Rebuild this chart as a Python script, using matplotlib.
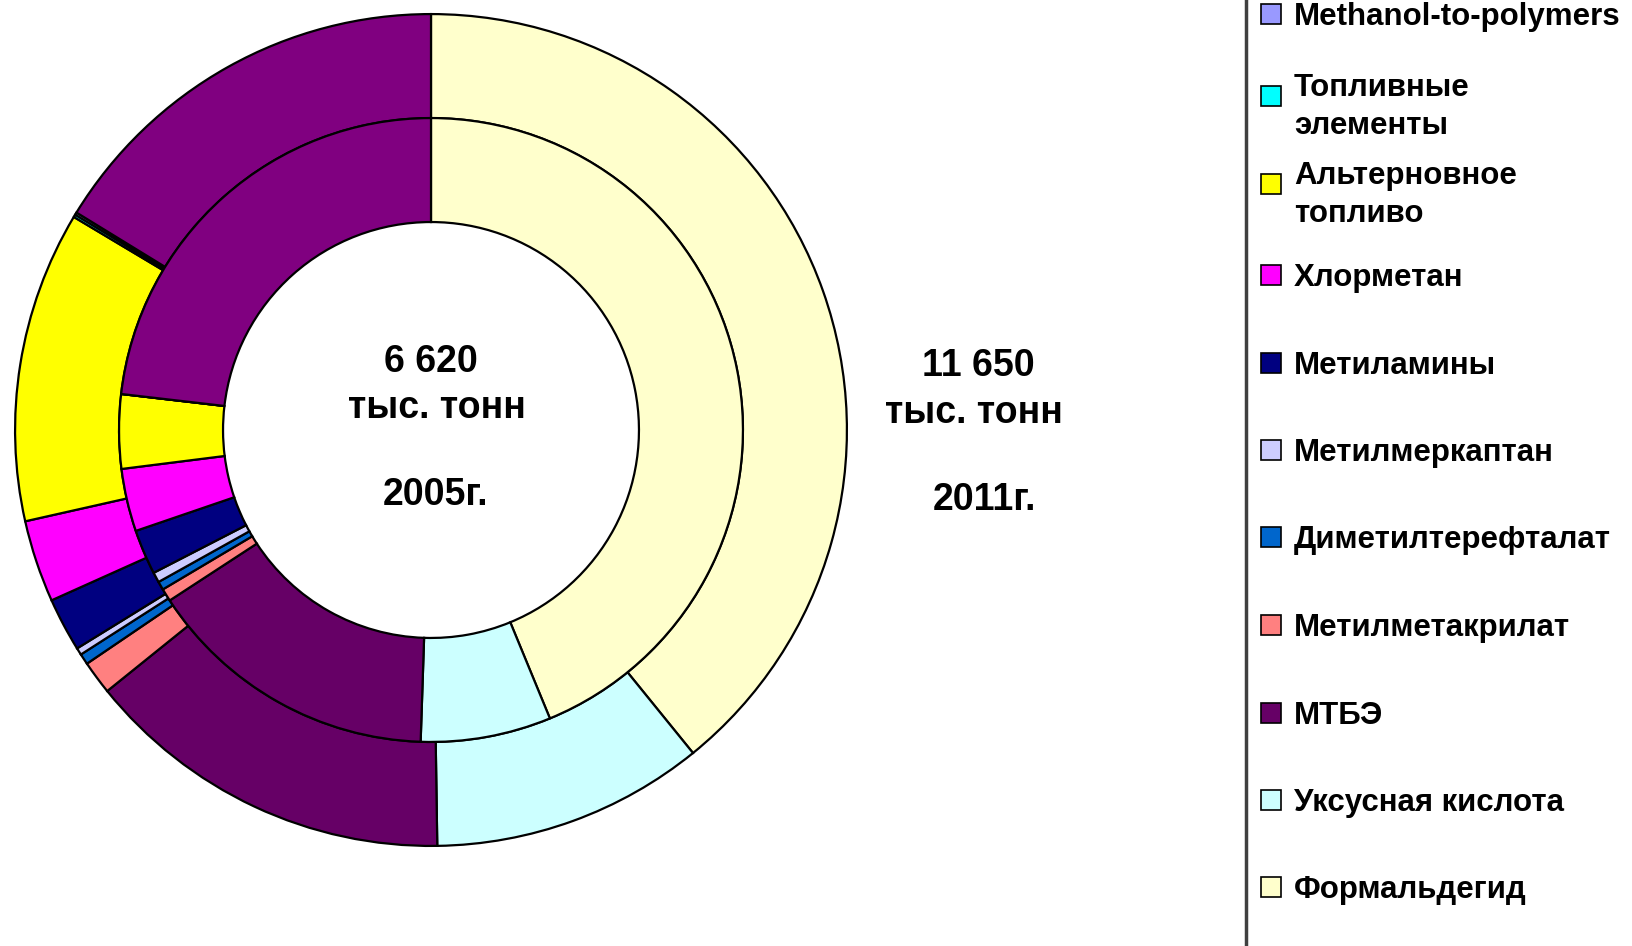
import matplotlib
matplotlib.use('Agg')
import matplotlib.pyplot as plt
from matplotlib.patches import Rectangle
from matplotlib.lines import Line2D

plt.rcParams['font.family'] = ['Liberation Sans', 'DejaVu Sans']

# categories in drawing order (clockwise from 12 o'clock)
categories = ['Формальдегид', 'Уксусная кислота', 'МТБЭ', 'Метилметакрилат',
              'Диметилтерефталат', 'Метилмеркаптан', 'Метиламины', 'Хлорметан',
              'Альтерновное\nтопливо', 'Топливные\nэлементы', 'Methanol-to-polymers',
              'Прочие']
colors = ['#FFFFCC', '#CCFFFF', '#660066', '#FF8080', '#0066CC', '#CCCCFF',
          '#000080', '#FF00FF', '#FFFF00', '#00FFFF', '#9999FF', '#800080']

# thousand tonnes
values_2005 = [2898, 447, 1011, 44, 29, 35, 154, 215, 254, 0, 0, 1533]
values_2011 = [4563, 1236, 1683, 152, 49, 32, 243, 372, 1408, 12, 11, 1893]

total_2005 = '6 620'
total_2011 = '11 650'

W, H = 1633, 946
fig = plt.figure(figsize=(W / 100, H / 100), dpi=100)

cx, cy, r = 431, 430, 418
ax = fig.add_axes([(cx - r) / W, (H - cy - r) / H, 2 * r / W, 2 * r / H])

edge = dict(edgecolor='black', linewidth=1.6)
ax.pie(values_2011, colors=colors, radius=1.0, startangle=90, counterclock=False,
       wedgeprops=dict(width=0.25, **edge))
ax.pie(values_2005, colors=colors, radius=0.75, startangle=90, counterclock=False,
       wedgeprops=dict(width=0.25, **edge))
ax.set_xlim(-1.005, 1.005)
ax.set_ylim(-1.005, 1.005)
ax.set_aspect('equal')
ax.axis('off')


def ftext(x, y, s, **kw):
    fig.text(x / W, 1 - y / H, s, fontweight='bold', **kw)


# centre labels
ftext(431, 362, total_2005, fontsize=27, ha='center', va='center')
ftext(437, 408, 'тыс. тонн', fontsize=27, ha='center', va='center')
ftext(436, 495, '2005г.', fontsize=27, ha='center', va='center')

ftext(978, 366, total_2011, fontsize=27, ha='center', va='center')
ftext(974, 413, 'тыс. тонн', fontsize=27, ha='center', va='center')
ftext(985, 500, '2011г.', fontsize=27, ha='center', va='center')

# legend (top entry is cut off by the picture edge, so it is left out)
fig.add_artist(Line2D([1246 / W, 1246 / W], [0, 1], color='#404040', linewidth=2.5))
legend_rows = [887, 800, 713, 625, 537, 450, 363, 275, 188, 100, 14]
for name, col, y in zip(categories[:11], colors[:11], legend_rows):
    two = '\n' in name
    py = y - 4 if two else y
    fig.add_artist(Rectangle((1261 / W, 1 - (py + 10) / H), 20 / W, 20 / H,
                             facecolor=col, edgecolor='black', linewidth=1.2))
    ftext(1294, y + (7 if two else 3), name, fontsize=22.5, ha='left', va='center',
          linespacing=1.38)

fig.savefig('out.png', dpi=100)
plt.close(fig)
